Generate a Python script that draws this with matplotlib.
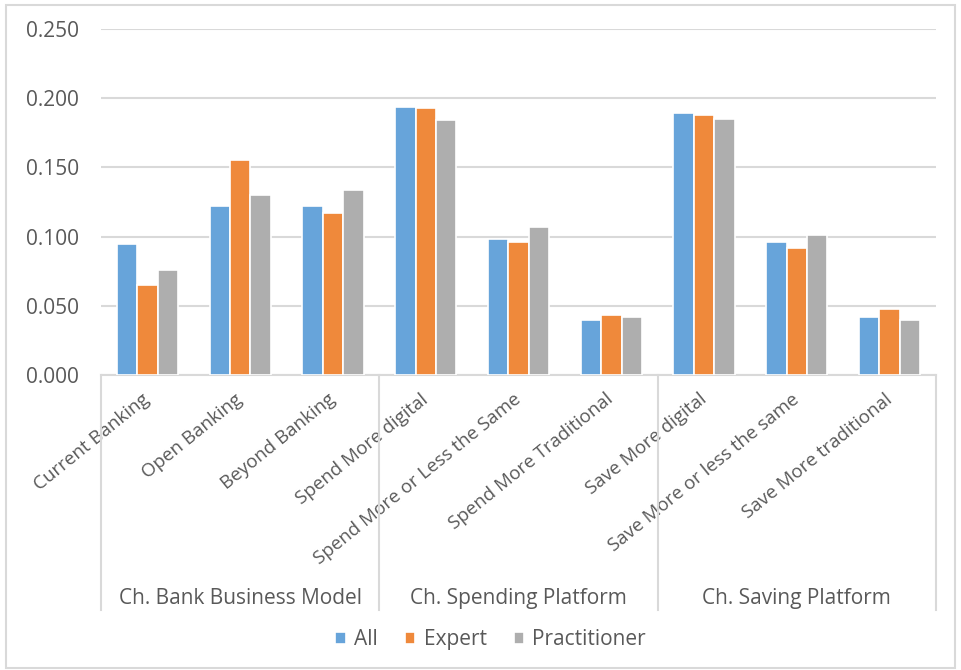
import matplotlib
matplotlib.use("Agg")
import matplotlib.pyplot as plt
import numpy as np
from matplotlib.patches import Rectangle

plt.rcParams["font.family"] = ["Open Sans", "DejaVu Sans"]

# category labels, inner level and outer group level
categories = [
    "Current Banking", "Open Banking", "Beyond Banking",
    "Spend More digital", "Spend More or Less the Same", "Spend More Traditional",
    "Save More digital", "Save More or less the same", "Save More traditional",
]
groups = ["Ch. Bank Business Model", "Ch. Spending Platform", "Ch. Saving Platform"]
group_size = 3

# series values
all_vals = [0.095, 0.122, 0.122, 0.194, 0.098, 0.040, 0.189, 0.096, 0.042]
expert_vals = [0.065, 0.155, 0.117, 0.193, 0.096, 0.043, 0.188, 0.092, 0.048]
practitioner_vals = [0.076, 0.130, 0.134, 0.184, 0.107, 0.042, 0.185, 0.101, 0.040]

series = [("All", all_vals, "#67A4DA"),
          ("Expert", expert_vals, "#EF893B"),
          ("Practitioner", practitioner_vals, "#AEAEAE")]

text_color = "#595959"
grid_color = "#D9D9D9"

fig = plt.figure(figsize=(9.62, 6.70), dpi=100)
ax = fig.add_axes([0.105, 0.4403, 0.868, 0.5164])

x = np.arange(len(categories))
width = 0.22
for i, (name, vals, color) in enumerate(series):
    ax.bar(x + (i - 1) * width, vals, width, color=color, label=name,
           edgecolor="white", linewidth=1.2, zorder=3)

ax.set_xlim(-0.5, len(categories) - 0.5)
ax.set_ylim(0, 0.25)
ax.set_yticks(np.arange(0, 0.2501, 0.05))
ax.set_yticklabels([f"{v:.3f}" for v in np.arange(0, 0.2501, 0.05)])
ax.yaxis.grid(True, color=grid_color, linewidth=1.5, zorder=0)
ax.tick_params(axis="y", length=0, pad=16, labelsize=15, labelcolor=text_color)

for side in ["top", "right", "left"]:
    ax.spines[side].set_visible(False)
ax.spines["bottom"].set_color(grid_color)
ax.spines["bottom"].set_linewidth(1.5)

ax.set_xticks(x)
ax.set_xticklabels(categories, rotation=39, ha="right", va="center",
                   rotation_mode="anchor")
ax.tick_params(axis="x", length=0, pad=16, labelsize=13.5, labelcolor=text_color)

# outer level: separators and group names below the rotated labels
trans = ax.get_xaxis_transform()
for b in np.arange(-0.5, len(categories), group_size):
    ax.plot([b, b], [0, -0.68], transform=trans, color=grid_color,
            linewidth=1.5, clip_on=False)
for g, name in enumerate(groups):
    center = g * group_size + (group_size - 1) / 2
    ax.text(center, -0.645, name, transform=trans, ha="center", va="center",
            fontsize=15, color=text_color)

leg = ax.legend(loc="center", bbox_to_anchor=(0.51, 0.045),
                bbox_transform=fig.transFigure, ncol=3, frameon=False,
                fontsize=15, handlelength=0.5, handleheight=0.5,
                handletextpad=0.4, columnspacing=1.3)
for t in leg.get_texts():
    t.set_color(text_color)

# chart area border
fig.patches.append(Rectangle((0.006, 0.003), 0.987, 0.989, transform=fig.transFigure,
                             fill=False, edgecolor=grid_color, linewidth=1.5))

fig.savefig("out.png", dpi=100)
